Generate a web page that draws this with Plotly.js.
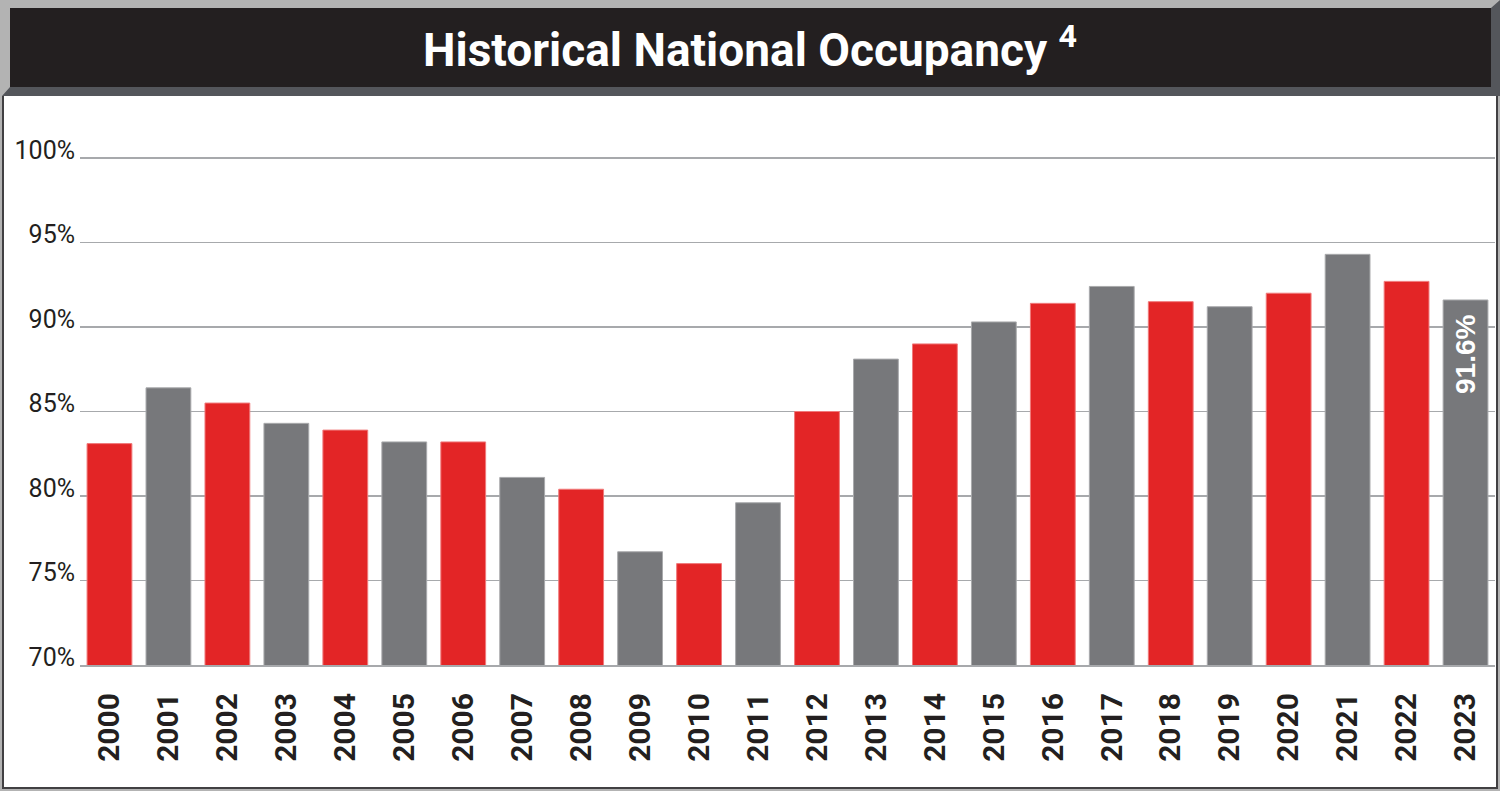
<!DOCTYPE html>
<html>
<head>
<meta charset="utf-8">
<script src="https://cdn.plot.ly/plotly-3.0.1.min.js"></script>
<style>
  html, body { margin:0; padding:0; width:1500px; height:791px; overflow:hidden; background:#b3b3b3; }
  #bar { position:absolute; left:10px; top:8px; width:1481px; height:79px; background:#231f20; }
  #shadow { position:absolute; left:0; top:0; width:1500px; height:96px; background:#54565b;
            clip-path: polygon(1491px 8px, 1500px 0px, 1500px 96px, 2px 96px, 10px 87px, 1491px 87px); }
  #panel { position:absolute; left:2px; top:96px; width:1496px; height:693px; background:#fff;
           box-sizing:border-box; border:2px solid #414042; border-top:none; }
  #chart { position:absolute; left:0; top:0; width:1500px; height:791px; }
</style>
</head>
<body>
<div id="bar"></div>
<div id="shadow"></div>
<div id="panel"></div>
<div id="chart"></div>
<script>
const years = ['2000','2001','2002','2003','2004','2005','2006','2007','2008','2009','2010','2011',
               '2012','2013','2014','2015','2016','2017','2018','2019','2020','2021','2022','2023'];
const occupancy = [83.1, 86.4, 85.5, 84.3, 83.9, 83.2, 83.2, 81.1, 80.4, 76.7, 76.0, 79.6,
                   85.0, 88.1, 89.0, 90.3, 91.4, 92.4, 91.5, 91.2, 92.0, 94.3, 92.7, 91.6];
const yTickVals = [70, 75, 80, 85, 90, 95, 100];
const yTickText = ['70%', '75%', '80%', '85%', '90%', '95%', '100%'];
const chartTitle = 'Historical National Occupancy <sup>4</sup>';

const RED = '#e32526', GRAY = '#77787b';
const colors = years.map((y, i) => i % 2 === 0 ? RED : GRAY);
const lineColors = years.map((y, i) => i % 2 === 0 ? '#f07a7b' : '#a9aaac');
const last = occupancy.length - 1;

const trace = {
  type: 'bar',
  x: years,
  y: occupancy,
  marker: { color: colors, line: { color: lineColors, width: 1 } },
  hoverinfo: 'none'
};

const layout = {
  width: 1500, height: 791,
  margin: { l: 80, r: 5, t: 157, b: 126, pad: 0 },
  paper_bgcolor: 'rgba(0,0,0,0)',
  plot_bgcolor: 'rgba(0,0,0,0)',
  showlegend: false,
  bargap: 0.24,
  title: {
    text: chartTitle,
    x: 0.5, xref: 'container', xanchor: 'center',
    y: 1 - 50 / 791, yref: 'container', yanchor: 'middle',
    font: { family: 'Roboto, sans-serif', size: 46, color: '#ffffff', weight: 'bold' }
  },
  xaxis: {
    type: 'category',
    range: [-0.5, years.length - 0.5],
    tickangle: -90,
    ticks: '',
    showgrid: false,
    showline: true, linecolor: '#a7a9ac', linewidth: 2,
    ticklabelstandoff: 14,
    tickfont: { family: 'Roboto, sans-serif', size: 30, color: '#231f20', weight: 'bold' }
  },
  yaxis: {
    range: [70, 100.06],
    tickvals: yTickVals,
    ticktext: yTickText,
    ticks: '',
    showgrid: true, gridcolor: '#a7a9ac', gridwidth: 1.5,
    zeroline: false,
    showline: false,
    ticklabelshift: -8,
    ticklabelstandoff: 4,
    tickfont: { family: 'Roboto, sans-serif', size: 25, color: '#231f20' }
  },
  annotations: [{
    x: last, y: occupancy[last], xref: 'x', yref: 'y',
    text: occupancy[last].toFixed(1) + '%',
    showarrow: false, textangle: -90,
    xanchor: 'center', yanchor: 'top', yshift: -13,
    font: { family: 'Liberation Sans, Arial, sans-serif', size: 28, color: '#ffffff', weight: 'bold' }
  }]
};

Plotly.newPlot('chart', [trace], layout, { displayModeBar: false, staticPlot: true });
</script>
</body>
</html>
